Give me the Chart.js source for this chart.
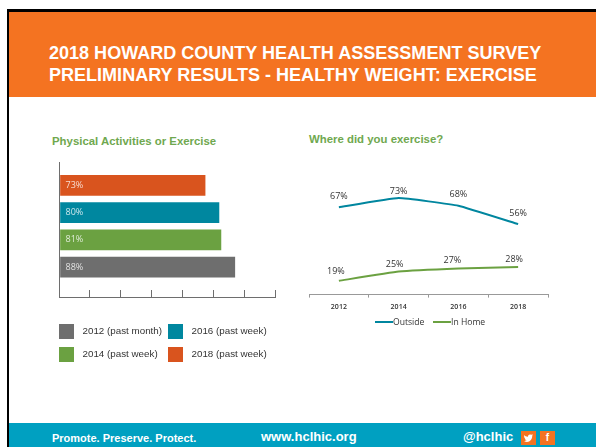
<!DOCTYPE html>
<html>
<head>
<meta charset="utf-8">
<script src="https://cdn.jsdelivr.net/npm/chart.js@4/dist/chart.umd.min.js"></script>
<style>
html, body { margin: 0; padding: 0; background: #fff; }
#slide { position: relative; width: 596px; height: 447px; overflow: hidden; font-family: "Liberation Sans", Arial, sans-serif; }
#frame { position: absolute; left: 7px; top: 9px; width: 589px; height: 438px; background: #000; }
#paper { position: absolute; left: 9px; top: 12px; width: 587px; height: 435px; background: #fff; }
#head { position: absolute; left: 9px; top: 12px; width: 587px; height: 85px; background: #F47321; }
#head div { position: absolute; left: 40px; color: #fff; font-weight: bold; font-size: 18.05px; line-height: 22px; white-space: nowrap; }
#foot { position: absolute; left: 9px; top: 423px; width: 587px; height: 24px; background: #00A0C1; color: #fff; font-weight: bold; }
#foot span { position: absolute; white-space: nowrap; line-height: 16px; }
.icon { position: absolute; top: 8px; width: 15px; height: 14px; background: #F47321; color: #fff; font-size: 10px; line-height: 14px; text-align: center; font-weight: bold; }
.icon svg { display: block; margin: 3px auto 0; }
.sub { position: absolute; color: #6FA84F; font-weight: bold; font-size: 11.4px; line-height: 14px; white-space: nowrap; }
canvas { position: absolute; }
.lg { position: absolute; white-space: nowrap; color: #333; font-size: 9.8px; line-height: 12px; }
.sw { position: absolute; width: 15px; height: 15px; }
.ln { position: absolute; height: 2px; }
</style>
</head>
<body>
<div id="slide">
  <div id="frame"></div>
  <div id="paper"></div>
  <div id="head">
    <div style="top:30px">2018 HOWARD COUNTY HEALTH ASSESSMENT SURVEY</div>
    <div style="top:52px">PRELIMINARY RESULTS - HEALTHY WEIGHT: EXERCISE</div>
  </div>
  <div class="sub" style="left:52px;top:134px">Physical Activities or Exercise</div>
  <div class="sub" style="left:309px;top:132px">Where did you exercise?</div>
  <canvas id="barChart" width="270" height="170" style="left:30px;top:150px;width:270px;height:170px"></canvas>
  <canvas id="lineChart" width="280" height="170" style="left:290px;top:150px;width:280px;height:170px"></canvas>
  <div id="barLegend"></div>
  <div id="lineLegend"></div>
  <div id="foot">
    <span style="left:43px;top:7px;font-size:11px">Promote. Preserve. Protect.</span>
    <span style="left:252px;top:6px;font-size:13px">www.hclhic.org</span>
    <span style="left:454px;top:6px;font-size:13px">@hclhic</span>
    <div class="icon" style="left:512px"><svg width="9" height="8" viewBox="0 0 9 8"><path d="M0 1c1 1 2 1.500 4 1.700C4 1 5.500 0 7 .8L9 .5 8.200 1.800C8.500 5 6 8 3 8 2 8 1 7.700 0 7c1 0 2-.2 2.500-.8C1.500 6 1 5 1 4.500 .5 4 0 3 0 1z" fill="#fff"/></svg></div>
    <div class="icon" style="left:531px">f</div>
  </div>
</div>
<script>
// left chart
const activityLabels = ["2012 (past month)", "2014 (past week)", "2016 (past week)", "2018 (past week)"];
const activityValues = [88, 81, 80, 73];
const activityColors = ["#6E6E6E", "#6BA141", "#00879F", "#D9541E"];

// right chart
const years = ["2012", "2014", "2016", "2018"];
const outside = [67, 73, 68, 56];
const inHome = [19, 25, 27, 28];
const outsideColor = "#00869F";
const inHomeColor = "#6BA141";

// bar value labels, inside the start of each bar
const barLabels = {
    id: "barLabels",
    afterDatasetsDraw(chart) {
        const ctx = chart.ctx;
        ctx.save();
        ctx.font = "9px 'Open Sans', sans-serif";
        ctx.fillStyle = "rgba(255,255,255,0.8)";
        ctx.textBaseline = "middle";
        chart.getDatasetMeta(0).data.forEach((bar, i) => {
            ctx.fillText(activityValues[i] + "%", bar.base + 5, bar.y);
        });
        ctx.restore();
    }
};

// line labels are nudged by hand like in the original
const labelNudge = [
    [[0, -11], [0, -7], [0, -11], [0, -11]],
    [[-3, -9], [-4, -7], [-6, -8], [-4, -8]]
];
const lineLabels = {
    id: "lineLabels",
    afterDatasetsDraw(chart) {
        const ctx = chart.ctx;
        ctx.save();
        ctx.font = "9px 'Open Sans', sans-serif";
        ctx.fillStyle = "#333";
        ctx.textAlign = "center";
        ctx.textBaseline = "middle";
        chart.data.datasets.forEach((ds, d) => {
            chart.getDatasetMeta(d).data.forEach((pt, i) => {
                ctx.fillText(ds.data[i] + "%", pt.x + labelNudge[d][i][0], pt.y + labelNudge[d][i][1]);
            });
        });
        ctx.restore();
    }
};

new Chart(document.getElementById("barChart"), {
    type: "bar",
    data: {
        datasets: [{
            data: activityValues.map((v, i) => ({ x: v, y: i + 1 })),
            backgroundColor: activityColors,
            barThickness: 20
        }]
    },
    options: {
        indexAxis: "y",
        responsive: false,
        animation: false,
        layout: { padding: { left: 29, top: 12, right: 25, bottom: 23 } },
        plugins: { legend: { display: false }, tooltip: { enabled: false } },
        scales: {
            x: {
                type: "linear",
                min: -0.76,
                max: 108.3,
                afterBuildTicks(axis) {
                    const ticks = [];
                    for (let i = 0; i <= 7; i++) ticks.push({ value: axis.min + (axis.max - axis.min) * i / 7 });
                    axis.ticks = ticks;
                },
                ticks: { display: false },
                grid: { drawOnChartArea: false, color: "#6E6E6E", lineWidth: 1, tickLength: -7 },
                border: { color: "#6E6E6E", width: 1 }
            },
            y: {
                type: "linear",
                offset: false,
                min: -0.1,
                max: 4.86,
                ticks: { display: false },
                grid: { display: false, drawTicks: false, offset: false },
                border: { color: "#6E6E6E", width: 1 }
            }
        }
    },
    plugins: [barLabels]
});

new Chart(document.getElementById("lineChart"), {
    type: "line",
    data: {
        labels: years,
        datasets: [
            { label: "Outside", data: outside, borderColor: outsideColor, borderWidth: 2, pointRadius: 0, tension: 0.1 },
            { label: "In Home", data: inHome, borderColor: inHomeColor, borderWidth: 2, pointRadius: 0, tension: 0.1 }
        ]
    },
    options: {
        responsive: false,
        animation: false,
        layout: { padding: { left: 19, top: 22, right: 22, bottom: 4 } },
        plugins: { legend: { display: false }, tooltip: { enabled: false } },
        scales: {
            x: {
                offset: true,
                ticks: { color: "#333", font: { family: "'Open Sans', sans-serif", size: 7, weight: "600" }, padding: 5, maxRotation: 0 },
                grid: { offset: true, drawOnChartArea: false, color: "#999", tickLength: 3 },
                border: { color: "#999", width: 1 }
            },
            y: {
                min: 10,
                max: 90,
                display: false
            }
        }
    },
    plugins: [lineLabels]
});

// legends
const barLegend = document.getElementById("barLegend");
activityLabels.forEach((label, i) => {
    const left = i < 2 ? 59 : 168;
    const top = i % 2 === 0 ? 324 : 347;
    barLegend.innerHTML += `<div class="sw" style="left:${left}px;top:${top}px;background:${activityColors[i]}"></div>` +
        `<div class="lg" style="left:${left + 23.5}px;top:${top + 1}px">${label}</div>`;
});
document.getElementById("lineLegend").innerHTML =
    `<div class="ln" style="left:375px;top:321px;width:18px;background:${outsideColor}"></div>` +
    `<div class="lg" style="left:393px;top:316px;font-family:'Open Sans',sans-serif;font-size:8.6px">Outside</div>` +
    `<div class="ln" style="left:433px;top:321px;width:18px;background:${inHomeColor}"></div>` +
    `<div class="lg" style="left:451px;top:316px;font-family:'Open Sans',sans-serif;font-size:8.6px">In Home</div>`;
</script>
</body>
</html>
